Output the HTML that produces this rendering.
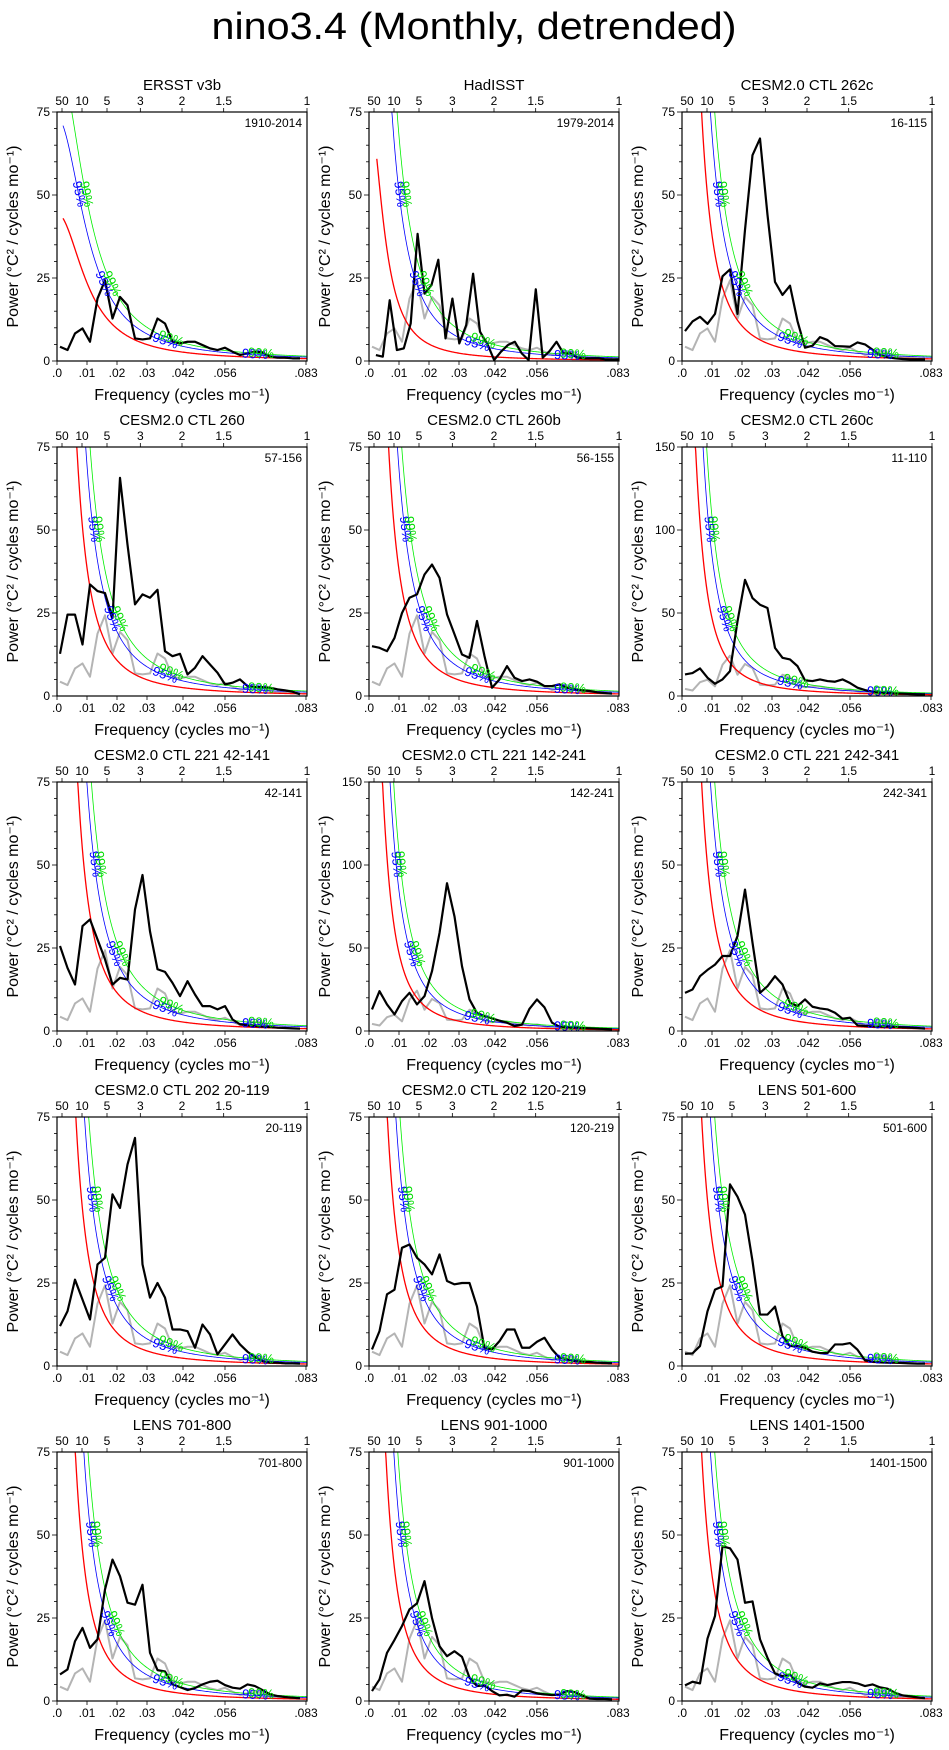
<!DOCTYPE html>
<html><head><meta charset="utf-8">
<style>
html,body{margin:0;padding:0;background:#fff;}
svg{display:block;font-family:"Liberation Sans",sans-serif;}
</style></head>
<body>
<svg id="chart" width="949" height="1750" viewBox="0 0 949 1750" xmlns="http://www.w3.org/2000/svg">
<text x="474" y="39" text-anchor="middle" font-size="38" textLength="525" lengthAdjust="spacingAndGlyphs">nino3.4 (Monthly, detrended)</text>
<g id="panels"></g>
</svg>
<script>
// ---- data ----
const freqs = [0.001,0.0035,0.006,0.0085,0.011,0.0135,0.016,0.0185,0.021,0.0235,0.026,0.0285,0.031,0.0335,0.036,0.0385,0.041,0.0435,0.046,0.0485,0.051,0.0535,0.056,0.0585,0.061,0.0635,0.066,0.0685,0.071,0.0735,0.076,0.0785,0.081];
const freqsHad = [0.0023,0.0046,0.0069,0.0093,0.0116,0.0139,0.0162,0.0185,0.0208,0.0231,0.0255,0.0278,0.0301,0.0324,0.0347,0.037,0.0394,0.0417,0.044,0.0463,0.0486,0.0509,0.0532,0.0556,0.0579,0.0602,0.0625,0.0648,0.0671,0.0694,0.0718,0.0741,0.0764,0.0787,0.081,0.0833];
const sErsst = [4.3,3.3,8.3,9.8,5.8,18.8,24.3,12.8,19.3,16.8,6.8,6.5,6.8,12.8,11.3,5.8,5.3,5.8,5.8,4.8,3.8,3.3,4,2.8,1.8,2.3,2.8,2.6,1.3,1,1,0.8,0.8];
const sHad = [1.8,1.3,18.3,3.3,3.8,11.3,38.3,20.3,22.8,30.5,6.8,18.8,5.3,10.8,26.3,8.8,5.3,0.3,2.8,4.8,5.8,2.3,0.3,21.6,1,3,5.8,2.3,2.3,1,0.8,0.8,0.8,0.5,0.5,0.5];
const s262c = [9,11.9,13.3,11.2,14.2,25.5,27.6,14.2,39.5,62,67,44,23.8,19.9,22.7,12,4,4.6,7.2,6.3,4.5,4.4,4.3,5.6,5,3.4,1.8,1.1,0.8,0.6,0.5,0.5,0.5];
const s260 = [12.7,24.5,24.5,15.5,33.6,31.6,31,23.5,65.7,45.6,27.6,30.6,29.6,32,13.5,12,12.7,6.5,8.5,12,9.5,7,3.5,4,5,3,2.7,2.7,2.5,2,1.7,1.3,0.5];
const s260b = [15,14.5,13.5,17.5,25,29.6,30.6,36.6,39.6,35.6,24.6,18.6,12.5,11.5,22.6,12,2.5,5,9,5.5,4.5,5,4.3,3,3,3.5,2.5,2,1.7,1.5,1.1,0.9,0.7];
const s260c = [13,13.8,16.6,11,7.4,10,15,45,70,59,55,53,29,23,22,18,9.4,9,10,9,8.6,10,7.8,5,3.6,2.6,2,1.8,1.5,1.4,1.2,1,1];
const s221a = [25.6,19,14,31.6,33.6,27.6,21.6,14,16,15.5,36.6,47,30,18.6,17.8,14.5,10.5,15,11,7.5,7.5,6.5,7.5,3.5,2,1.7,1.5,1.3,1.2,1,0.9,0.8,0.7];
const s221b = [13,24,16,10,18,23,16,21,36,59,89,69,39,19,10.8,9,7.6,6.2,5,3,3.8,13.4,19,14.2,5,2.6,2.2,2,1.8,1.6,1.4,1.2,1];
const s221c = [11.5,12.5,16.5,18.4,20,22.6,22.6,28.6,42.6,26.6,11.5,13.5,16.5,14,8.5,7.5,9.5,7.3,6.8,6.5,5.5,3.7,4,1.7,1.5,1.4,1.3,1.3,1.2,1.1,1,0.9,0.7];
const s202a = [12,16.5,26,20,14,30.6,32.6,51.7,47.6,60.7,68.7,30.6,20.6,25,20.6,11,11,10.5,5.5,12.5,9.5,3.5,6.5,9.5,6.5,4.3,2.7,1.5,1,1,0.8,0.8,0.7];
const s202b = [5,10.5,21.6,23,35.6,36.6,32.6,30.6,27.6,33.6,25.6,24.6,25,25,17.9,5.3,5,7.5,11,11,5.5,5.5,7.3,8.5,5,2.5,2,1.5,1.3,1.2,1,0.9,0.8];
const sL501 = [3.7,3.8,6,16.5,23,24,54.7,51,45.6,31.6,15.5,15.5,17.9,9,6,6,5.5,4.3,3.9,3.9,6.5,6.5,6.9,4.9,1.7,1.3,1.1,1,1,0.9,0.8,0.7,0.7];
const sL701 = [8,9.5,18,22,16,18.6,33.6,42.6,37.6,29.6,29,35,14.5,9.3,8.9,5,4.2,3.3,3.9,5,5.8,6.1,4.8,4,3.7,5,4.5,3.3,2,1.5,1.2,1,0.8];
const sL901 = [3,6.5,14.5,18.4,22.6,27.6,29.4,36.1,25,16.5,13.5,15,13.3,7,4.5,4.7,3,1.7,1.9,1.3,3.2,3,2.3,2,1.8,1.9,3,2.7,1.7,0.7,0.6,0.6,0.5];
const sL1401 = [4.7,5.8,5.3,18.8,25.6,46.6,46,42.6,29.6,30,18.6,13,8.3,7.5,8,5.5,4.3,4,5.3,4.8,5.3,5.7,5.7,5.3,4.5,5,4.1,3.7,2.5,1.7,1.4,1.1,0.8];
const panelTitles = ["ERSST v3b","HadISST","CESM2.0 CTL 262c","CESM2.0 CTL 260","CESM2.0 CTL 260b","CESM2.0 CTL 260c","CESM2.0 CTL 221 42-141","CESM2.0 CTL 221 142-241","CESM2.0 CTL 221 242-341","CESM2.0 CTL 202 20-119","CESM2.0 CTL 202 120-219","LENS 501-600","LENS 701-800","LENS 901-1000","LENS 1401-1500"];
const panelPeriods = ["1910-2014","1979-2014","16-115","57-156","56-155","11-110","42-141","142-241","242-341","20-119","120-219","501-600","701-800","901-1000","1401-1500"];
const panelSeries = [sErsst,sHad,s262c,s260,s260b,s260c,s221a,s221b,s221c,s202a,s202b,sL501,sL701,sL901,sL1401];
const yMaxes = [75,75,75,75,75,150,75,150,75,75,75,75,75,75,75];
const redA = [44.5,75,275,280,275,340,300,340,275,260,250,275,250,220,275];
const redFc = [0.0106,0.0054,0.004,0.004,0.004,0.004,0.004,0.004,0.004,0.004,0.004,0.004,0.004,0.004,0.004];
const redStart = [0.002,0.0026,0.001,0.001,0.001,0.001,0.001,0.001,0.001,0.001,0.001,0.001,0.001,0.001,0.001];
const sig95 = [1.65,3.0,1.8,1.8,1.8,1.8,1.8,1.8,1.8,1.8,1.8,1.8,1.8,1.8,1.8];
const sig99 = [2.05,4.0,2.3,2.3,2.3,2.3,2.3,2.3,2.3,2.3,2.3,2.3,2.3,2.3,2.3];
const botTicks = [0,0.01,0.02,0.03,0.042,0.056,0.083];
const botTickLabels = [".0",".01",".02",".03",".042",".056",".083"];
const topPeriods = [50,10,5,3,2,1.5,1];
const topPeriodLabels = ["50","10","5","3","2","1.5","1"];

// ---- layout ----
const colLeft = [57,369,682];
const rowTop = [112,447,782,1117,1452];
const W = 250, H = 249, FMAX = 1/12;
const NS = "http://www.w3.org/2000/svg";
const root = document.getElementById('panels');
function mk(tag, attrs, parent){ const e=document.createElementNS(NS,tag); for(const k in attrs) e.setAttribute(k,attrs[k]); parent.appendChild(e); return e; }

panelTitles.forEach((title, p) => {
  const L = colLeft[p%3], T = rowTop[Math.floor(p/3)], ymax = yMaxes[p];
  const xs = f => L + f/FMAX*W;
  const ys = v => T + H - v/ymax*H;
  const g = mk('g', {}, root);
  
  
  const cid = 'clip'+p;
  const cp = mk('clipPath', {id:cid}, g);
  mk('rect', {x:L, y:T, width:W, height:H}, cp);
  const pg = mk('g', {'clip-path':'url(#'+cid+')'}, g);
  const red = f => redA[p]/(1+(f/redFc[p])*(f/redFc[p]));
  function curvePath(mult){
    let d=''; const f0 = redStart[p];
    for(let i=0;i<=300;i++){ const f=f0+(FMAX-f0)*i/300; let v=red(f)*mult; let y=Math.max(T-5,ys(v)); d+=(i?'L':'M')+xs(f).toFixed(2)+','+y.toFixed(2); }
    return d;
  }
  if (p>0){
    let d=''; freqs.forEach((f,i)=>{ d+=(i?'L':'M')+xs(f).toFixed(2)+','+ys(sErsst[i]).toFixed(2); });
    const gl = mk('path', {d:d, fill:'none', stroke:'#b4b4b4', 'stroke-width':2, 'stroke-linejoin':'round'}, pg);
    
    
  }
  const rl = mk('path', {d:curvePath(1), fill:'none', stroke:'#ff0000', 'stroke-width':1.3}, pg);
  
  
  const bl = mk('path', {d:curvePath(sig95[p]), fill:'none', stroke:'#0000ff', 'stroke-width':0.8}, pg);
  
  
  const gl2 = mk('path', {d:curvePath(sig99[p]), fill:'none', stroke:'#00ee00', 'stroke-width':0.8}, pg);
  
  
  const fx = (p===1) ? freqsHad : freqs;
  const ser = panelSeries[p];
  let d=''; ser.forEach((v,i)=>{ d+=(i?'L':'M')+xs(fx[i]).toFixed(2)+','+ys(v).toFixed(2); });
  const sl = mk('path', {d:d, fill:'none', stroke:'#000', 'stroke-width':2.2, 'stroke-linejoin':'round'}, pg);
  
  
  function labelAt(mult, f, txt, col, dx){
    const v = red(f)*mult; const x = xs(f)+dx, y = ys(v);
    const x2 = xs(f+0.0005), y2 = ys(red(f+0.0005)*mult);
    const ang = Math.atan2(y2-y, x2-xs(f))*180/Math.PI;
    const t = mk('text', {x:x, y:y, 'font-size':13, fill:col, 'text-anchor':'middle', 'dominant-baseline':'middle', transform:'rotate('+ang.toFixed(1)+' '+x.toFixed(1)+' '+y.toFixed(1)+')'}, pg);
    t.textContent = txt;
    
    
  }
  function fAt(mult, v){ let lo=0.0005, hi=FMAX; for(let k=0;k<50;k++){ const m=(lo+hi)/2; if(red(m)*mult>v) lo=m; else hi=m; } return lo; }
  [[sig95[p],'95%','#0000ff'],[sig99[p],'99%','#00dd00']].forEach(([m,txt,col])=>{
    labelAt(m, fAt(m, ymax*0.67), txt, col, 0);
    labelAt(m, fAt(m, ymax*0.31), txt, col, 0);
    labelAt(m, 0.036 + (txt==='99%'?0.002:0), txt, col, 0);
    labelAt(m, 0.066 + (txt==='99%'?0.002:0), txt, col, 0);
  });
  const fr = mk('rect', {x:L, y:T, width:W, height:H, fill:'none', stroke:'#000', 'stroke-width':1.2}, g);
  
  
  const minorStep = ymax===150 ? 10 : 5, majorStep = ymax===150 ? 50 : 25;
  for(let v=0; v<=ymax; v+=minorStep){
    const major = v%majorStep===0;
    mk('line', {x1:L-(major?5:3), x2:L, y1:ys(v), y2:ys(v), stroke:'#000', 'stroke-width':0.8}, g);
    if(major){
      const t = mk('text', {x:L-7, y:ys(v)+4, 'font-size':12, 'text-anchor':'end'}, g);
      t.textContent = String(v);
      
      
    }
  }
  botTicks.forEach((f,i)=>{
    mk('line', {x1:xs(f), x2:xs(f), y1:T+H, y2:T+H+4, stroke:'#000', 'stroke-width':0.8}, g);
    const t = mk('text', {x:xs(f), y:T+H+16, 'font-size':12, 'text-anchor':'middle'}, g);
    t.textContent = botTickLabels[i];
    
    
  });
  topPeriods.forEach((per,i)=>{
    const f = 1/(12*per);
    mk('line', {x1:xs(f), x2:xs(f), y1:T-4, y2:T, stroke:'#000', 'stroke-width':0.8}, g);
    const t = mk('text', {x:xs(f), y:T-7, 'font-size':12, 'text-anchor':'middle'}, g);
    t.textContent = topPeriodLabels[i];
    
    
  });
  const tt = mk('text', {x:L+W/2, y:T-22, 'font-size':15, 'text-anchor':'middle'}, g);
  tt.textContent = title;
  
  
  const pt = mk('text', {x:L+W-5, y:T+15, 'font-size':12, 'text-anchor':'end'}, g);
  pt.textContent = panelPeriods[p];
  
  
  const xt = mk('text', {x:L+W/2, y:T+H+39, 'font-size':16, 'text-anchor':'middle'}, g);
  xt.textContent = 'Frequency (cycles mo\u207B\u00B9)';
  
  
  const yx = L-39, yy = T+H/2;
  const yt = mk('text', {x:yx, y:yy, 'font-size':16, 'text-anchor':'middle', transform:'rotate(-90 '+yx+' '+yy+')'}, g);
  yt.textContent = 'Power (\u00B0C\u00B2 / cycles mo\u207B\u00B9)';
  
  
});
</script>
</body></html>
